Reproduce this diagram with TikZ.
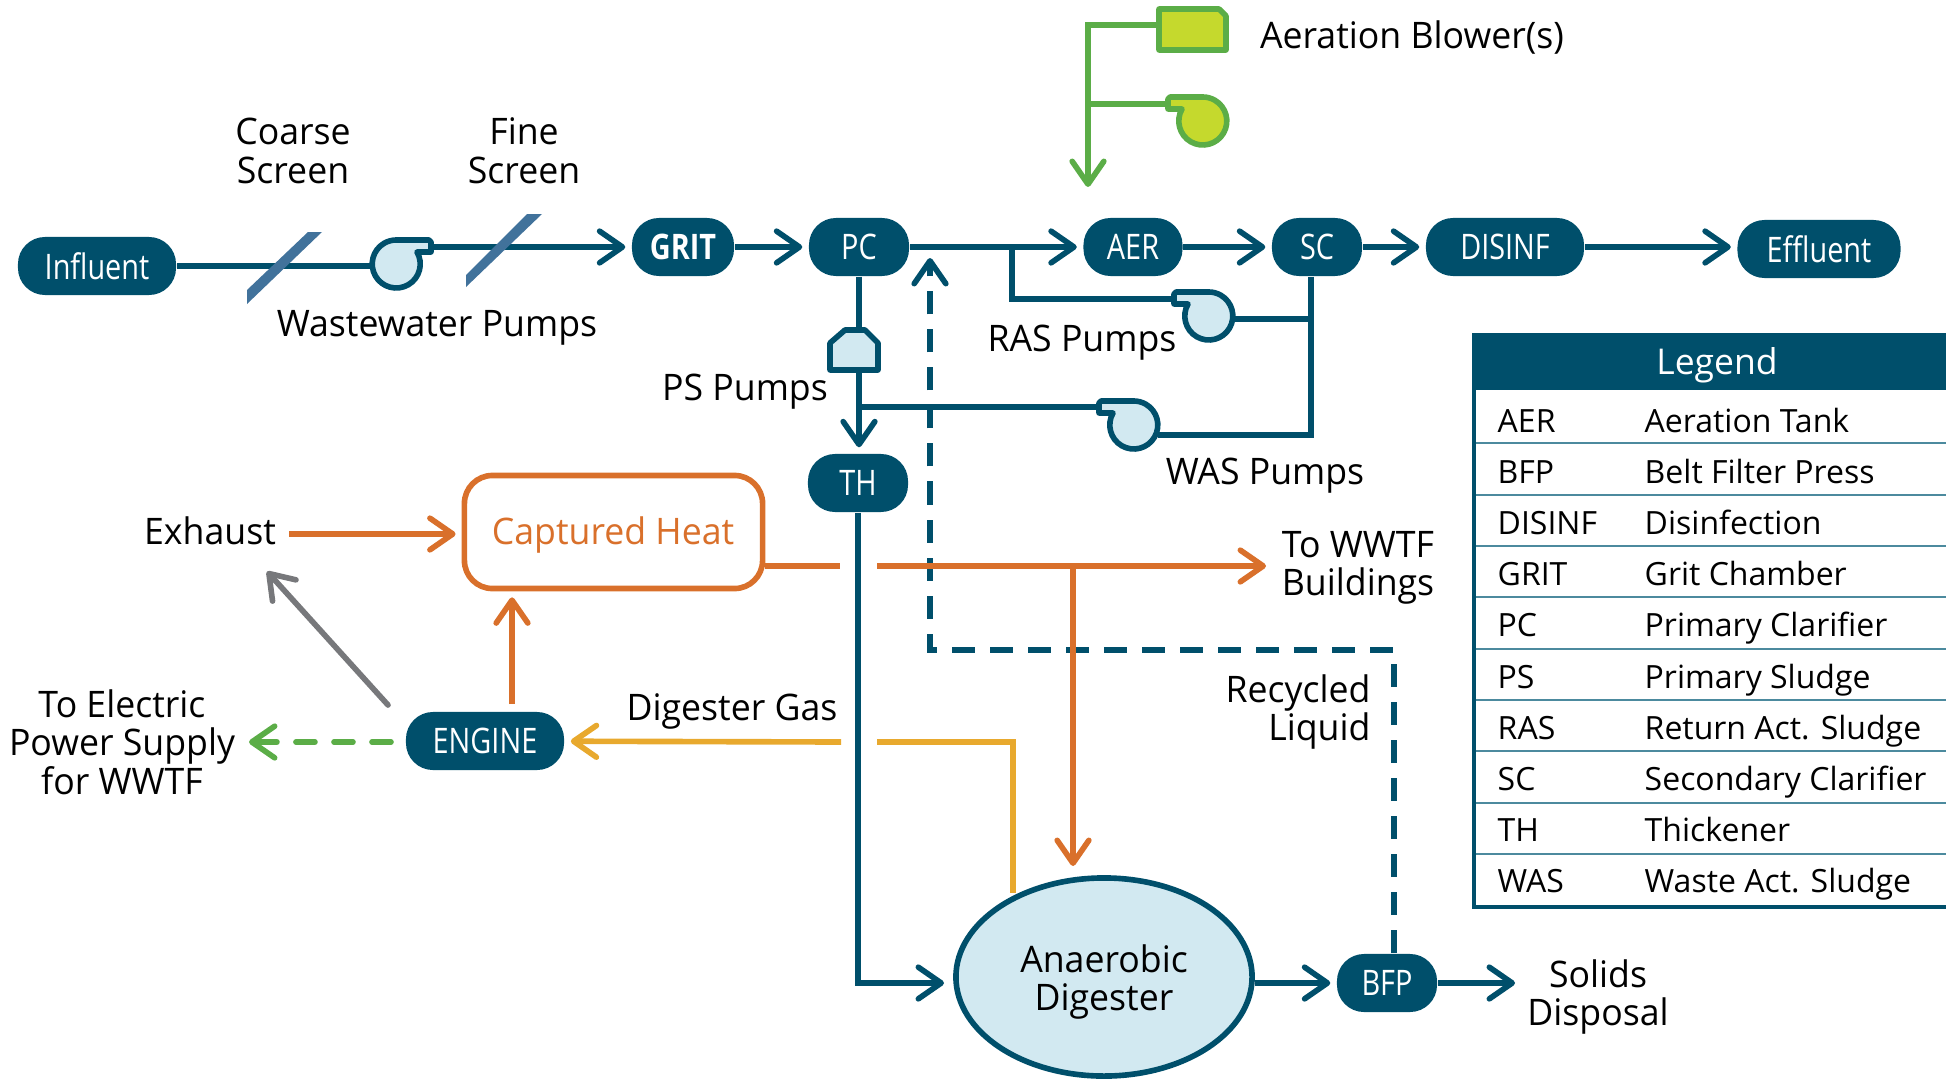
\documentclass[tikz,border=0pt]{standalone}
\usepackage{fontspec}
\usepackage{xcolor}
\usetikzlibrary{shapes.geometric, arrows.meta, positioning, calc}
\setmainfont{Open Sans}
\newfontfamily\labelfont[FakeStretch=0.975]{Open Sans}
\newfontfamily\pillfont[FakeStretch=0.82]{Open Sans}
\definecolor{tealdark}{HTML}{004F6B}
\definecolor{tealpale}{HTML}{D2E9F1}
\definecolor{screenblue}{HTML}{41729B}
\definecolor{rulecol}{HTML}{4C8A9E}
\definecolor{airgreen}{HTML}{5BAD47}
\definecolor{airlime}{HTML}{C5D92D}
\definecolor{heatorange}{HTML}{D9702B}
\definecolor{gasyellow}{HTML}{E8A92E}
\definecolor{exhaustgray}{HTML}{77787B}

\tikzset{
  pump body/.pic={
    \draw[line width=1.6pt, line join=round, pic actions] (0,-24) -- (33,-24) -- (35,-22) -- (35,-12) -- (21,-12)
      arc[start angle=-30, end angle=270, radius=24] -- cycle;
    \coordinate (-back) at (-24,0);
    \coordinate (-spout) at (35,-17);
  },
}

\begin{document}
\begin{tikzpicture}[
  x=0.01cm, y=-0.01cm,
  pill/.style={rectangle, rounded corners=0.27cm, fill=tealdark, text=white, inner sep=0pt, minimum height=0.58cm, font=\pillfont\fontsize{10}{12}\selectfont},
  lbl/.style={align=center, inner sep=0pt, font=\labelfont\fontsize{10.4}{10.95}\selectfont},
  pipe/.style={line width=1.6pt, color=tealdark},
  arr/.style={pipe, -{Straight Barb[round, length=6.5pt, width=9pt]}, shorten >=0.06cm},
  recyc/.style={arr, dash pattern=on 0.23cm off 0.15cm},
  heat/.style={arr, color=heatorange},
  gas/.style={arr, color=gasyellow},
  air/.style={arr, color=airgreen},
  screen/.style={fill=screenblue},
  lgkey/.style={anchor=base west, inner sep=0pt, font=\fontsize{9.1}{11}\selectfont},
]
\useasboundingbox (0,0) rectangle (1946,1079);

% process row
\node[pill, minimum width=1.58cm] (influent) at (97,266) {Influent};
\node[pill, minimum width=1.02cm, font=\pillfont\bfseries\fontsize{10}{12}\selectfont] (grit) at (683,247) {GRIT};
\node[pill, minimum width=1.0cm] (pc) at (859,247) {PC};
\node[pill, minimum width=0.99cm] (aer) at (1133,247) {AER};
\node[pill, minimum width=0.9cm] (sc) at (1317,247) {SC};
\node[pill, minimum width=1.58cm] (disinf) at (1505,247) {DISINF};
\node[pill, minimum width=1.63cm] (effluent) at (1819,249) {Effluent};
\node[pill, minimum width=1.0cm] (th) at (858,483) {TH};
\node[pill, minimum width=1.58cm] (engine) at (485,741) {ENGINE};
\node[pill, minimum width=1.0cm] (bfp) at (1387,983) {BFP};

\node[ellipse, draw=tealdark, fill=tealpale, line width=1.6pt, minimum width=2.96cm, minimum height=1.98cm, inner sep=0pt] (digester) at (1104,977) {};
\node[rectangle, draw=heatorange, rounded corners=0.28cm, line width=1.6pt, minimum width=2.98cm, minimum height=1.13cm, inner sep=0pt] (heatbox) at (613.5,532) {};

% pumps
\pic[draw=tealdark, fill=tealpale] (wwp) at (396,264) {pump body};
\pic[draw=tealdark, fill=tealpale, transform shape, xscale=-1] (ras) at (1209,316) {pump body};
\pic[draw=tealdark, fill=tealpale, transform shape, xscale=-1] (was) at (1134,425) {pump body};
\pic[draw=airgreen, fill=airlime, transform shape, xscale=-1] (blowpump) at (1203,121) {pump body};

% helper points
\coordinate (airdrop) at (1088,193);
\coordinate (rastee) at (1012,247);
\coordinate (wastee) at (859,407);
\coordinate (scdrop) at (1311,435);
\coordinate (rasjoin) at (1311,319);
\coordinate (heatL) at (840,566);
\coordinate (heatR) at (877,566);
\coordinate (heattip) at (1272,566);
\coordinate (heattee) at (1073,566);
\coordinate (heatdown) at (1073,872);
\coordinate (gasL) at (841,742);
\coordinate (gasR) at (877,742);
\coordinate (gastop) at (1013,742);
\coordinate (gasfoot) at (1013,893);
\coordinate (digin) at (950,983);
\coordinate (solidtip) at (1521,983);
\coordinate (exhin) at (289,534);
\coordinate (heatrise) at (512,704);
\coordinate (recyctop) at (930,252);
\coordinate (recycbend) at (930,650);
\coordinate (bfpup) at (1394,650);
\coordinate (bfpfoot) at (1394,953);
\coordinate (airtop) at (1088,25);
\coordinate (airmid) at (1088,104);
\coordinate (blowerW) at (1159,25);
\coordinate (grayfoot) at (388,705);
\coordinate (graytip) at (263,567);
\coordinate (greenfoot) at (391,742);
\coordinate (greentip) at (243,742);

% main flow
\draw[pipe] (influent) -- (wwp-back |- influent);
\draw[arr] (wwp-spout) -- (grit);
\draw[arr] (grit) -- (pc);
\draw[arr] (pc) -- (aer);
\draw[arr] (aer) -- (sc);
\draw[arr] (sc) -- (disinf);
\draw[arr] (disinf) -- (effluent.west |- disinf);

% sludge lines
\draw[pipe] (rastee) |- (ras-spout);
\draw[pipe] (sc.south -| scdrop) -- (scdrop) -- (was-back |- scdrop);
\draw[pipe] (rasjoin -| ras-back) -- (rasjoin);
\draw[pipe] (wastee) -- (was-spout |- wastee);
\draw[arr] (pc.south -| wastee) -- (th.north -| wastee);
\draw[pipe, fill=tealpale, line join=round] (830,370) -- (830,343) -- (845,330) -- (865,330) -- (878,343) -- (878,370) -- cycle;
\draw[arr] (th) |- (digin);
\draw[arr] (digester.east |- bfp) -- (bfp);
\draw[arr] (bfp) -- (solidtip);

% recycled liquid
\draw[recyc] (bfpfoot) -- (bfpup) -- (recycbend) -- (recyctop);

% screens
\fill[screen] (247,290) -- (308,232) -- (322,232) -- (247,304) -- cycle;
\fill[screen] (466,275) -- (527,214) -- (542,214) -- (466,287) -- cycle;

% aeration
\draw[pipe, draw=airgreen, fill=airlime, line join=round] (1159,9) -- (1219,9) -- (1226,16) -- (1226,50) -- (1159,50) -- cycle;
\draw[air] (blowerW) -- (airtop) -- (airdrop);
\draw[pipe, draw=airgreen] (airmid) -- (blowpump-spout);

% heat and gas
\draw[heat] (exhin) -- (exhin -| heatbox.west);
\draw[heat] (heatrise) -- (heatrise |- heatbox.south);
\draw[pipe, color=heatorange] (heatL -| heatbox.east) -- (heatL);
\draw[heat] (heatR) -- (heattip);
\draw[heat] (heattee) -- (heatdown);
\draw[gas] (gasL) -- (engine);
\draw[pipe, color=gasyellow] (gasR) -- (gastop) -- (gasfoot);
\draw[arr, color=exhaustgray, line cap=round] (grayfoot) -- (graytip);
\draw[air, line cap=round, dash pattern=on 0.19cm off 0.19cm] (greenfoot) -- (greentip);

% labels
\node[lbl, text=heatorange] (heatlabel) at (613,535) {Captured Heat};
\node[lbl] (diglabel) at (1104,982) {Anaerobic\\Digester};
\node[lbl] (coarse) at (293,151) {Coarse\\Screen};
\node[lbl] (fine) at (524,151) {Fine\\Screen};
\node[lbl] (wwlabel) at (437,328) {Wastewater Pumps};
\node[lbl] (blowlabel) at (1412,38) {Aeration Blower(s)};
\node[lbl] (raslabel) at (1082,343) {RAS Pumps};
\node[lbl] (pslabel) at (745,392) {PS Pumps};
\node[lbl] (waslabel) at (1265,476) {WAS Pumps};
\node[lbl] (exhaust) at (210,531) {Exhaust};
\node[lbl] (bldg) at (1358,568) {To WWTF\\Buildings};
\node[lbl, align=right] (recycled) at (1298,712) {Recycled\\Liquid};
\node[lbl] (dglabel) at (732,711) {Digester Gas};
\node[lbl] (power) at (122,742) {To Electric\\Power Supply\\for WWTF};
\node[lbl] (solids) at (1598,997) {Solids\\Disposal};

% legend
\node[rectangle, fill=tealdark, text=white, minimum width=4.9cm, minimum height=0.57cm, inner sep=0pt, text depth=0pt, font=\fontsize{10.1}{12}\selectfont] (lghead) at (1717,361.5) {Legend};
\foreach \k/\v [count=\i from 0] in {AER/Aeration Tank, BFP/Belt Filter Press, DISINF/Disinfection, GRIT/Grit Chamber, PC/Primary Clarifier, PS/Primary Sludge, RAS/Return Act. Sludge, SC/Secondary Clarifier, TH/Thickener, WAS/Waste Act. Sludge} {
  \node[lgkey] (lgkey\i) at (1497,432+51.2*\i) {\k};
  \node[lgkey] (lgname\i) at (1644,432+51.2*\i) {\v};
}
\foreach \r in {443,495,546,597,649,700,751,803,854} {
  \draw[color=rulecol, line width=0.6pt] (1474,\r) -- (1946,\r);
}
\draw[color=tealdark, line width=1.2pt] (1474,333) -- (1474,907) -- (1946,907);
\end{tikzpicture}
\end{document}
